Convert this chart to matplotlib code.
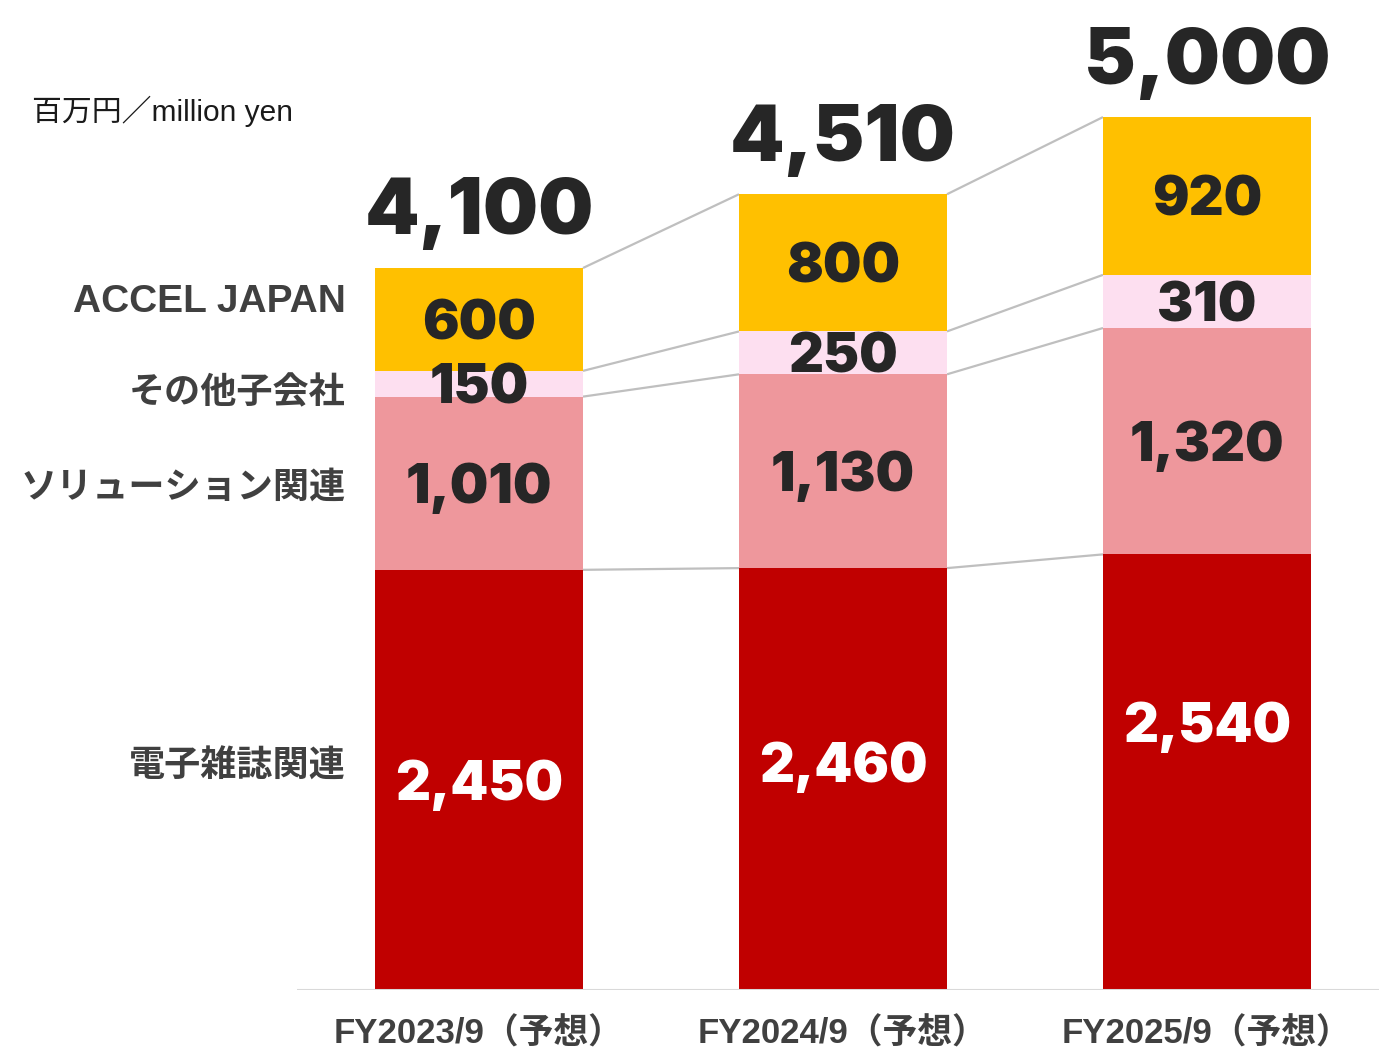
import matplotlib
matplotlib.use("Agg")
import matplotlib.pyplot as plt

# ---- data ----
periods = ["FY2023/9（予想）", "FY2024/9（予想）", "FY2025/9（予想）"]
segments = ["電子雑誌関連", "ソリューション関連", "その他子会社", "ACCEL JAPAN"]
ebook = [2450, 2460, 2540]
solution = [1010, 1130, 1320]
other = [150, 250, 310]
accel = [600, 800, 920]
totals = [4100, 4510, 5000]
unit_label = "百万円／million yen"

# ---- style ----
colors = ["#C00000", "#EE979C", "#FDDFF0", "#FFC000"]
label_colors = ["white", "#262626", "#262626", "#262626"]
num_font = ["Inter", "DejaVu Sans"]
jp_font = ["Liberation Sans", "Noto Sans CJK JP", "DejaVu Sans"]

W, H = 1379, 1048
fig = plt.figure(figsize=(W / 100, H / 100), dpi=100)
px_per_unit = 0.1715
ax_left, ax_right, ax_bottom = 297, 1379, 990
ax = fig.add_axes([ax_left / W, (H - ax_bottom) / H, (ax_right - ax_left) / W, ax_bottom / H])
ax.set_xlim(-0.5, (ax_right - 479) / 364)
ax.set_ylim(0, ax_bottom / px_per_unit)
ax.axis("off")

x = list(range(len(periods)))
bw = 208 / 364
series = [ebook, solution, other, accel]
bottoms = [0] * len(x)
tops_list = []
red_label_frac = [0.5, 0.54, 0.615]
for si, (vals, col) in enumerate(zip(series, colors)):
    ax.bar(x, vals, bw, bottom=bottoms, color=col, linewidth=0, zorder=2)
    for i in x:
        if si == 0:
            yc = bottoms[i] + vals[i] * red_label_frac[i]
        else:
            yc = bottoms[i] + vals[i] / 2
        ax.text(i, yc, f"{vals[i]:,}", ha="center", va="center_baseline",
                fontsize=39, fontweight="black", family=num_font,
                color=label_colors[si], zorder=5)
    bottoms = [b + v for b, v in zip(bottoms, vals)]
    tops_list.append(list(bottoms))

# connector lines between segment boundaries
for tops in tops_list:
    for i in range(len(x) - 1):
        ax.plot([i + bw / 2, i + 1 - bw / 2], [tops[i], tops[i + 1]],
                color="#BFBFBF", lw=1.6, zorder=1, solid_capstyle="butt")

# totals
for i in x:
    ax.text(i, bottoms[i] + 62 / px_per_unit, f"{totals[i]:,}", ha="center", va="center_baseline",
            fontsize=56, fontweight="black", family=num_font, color="#262626")

# baseline
ax.axhline(0, color="#D9D9D9", lw=2.2, zorder=3)

# category labels
for i in x:
    ax.text(i, -44 / px_per_unit, periods[i], ha="center", va="center",
            fontsize=25, family=jp_font, color="#404040", fontweight="bold")

# left segment labels
left_y = [767, 488, 394, 302]
left_size = [26, 26, 26, 28]
for name, yy, fs in zip(segments, left_y, left_size):
    fig.text(346 / W, 1 - yy / H, name, ha="right", va="center",
             fontsize=fs, family=jp_font, color="#404040", fontweight="bold")

fig.text(32 / W, 1 - 111 / H, unit_label, ha="left", va="center",
         fontsize=21.5, family=jp_font, color="#1a1a1a")

fig.savefig("out.png", dpi=100)
